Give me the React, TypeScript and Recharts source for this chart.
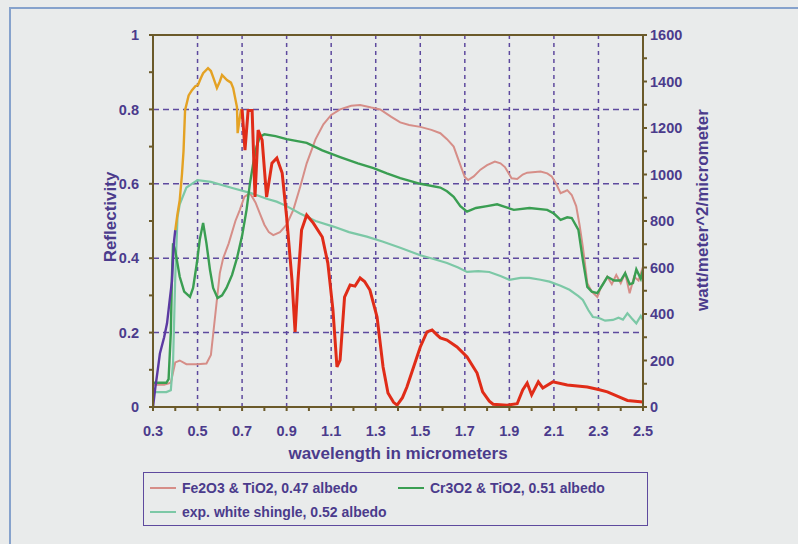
import React from "react";
import {
  ComposedChart,
  Line,
  XAxis,
  YAxis,
  ReferenceLine,
  Label,
} from "recharts";

interface Pt {
  w: number;
  v: number;
}

const pts = (rows: number[][]): Pt[] => rows.map(([w, v]) => ({ w, v }));

// reflectivity, Fe2O3 & TiO2
const fe2o3 = pts([
  [0.3, 0.06], [0.35, 0.06], [0.38, 0.065], [0.4, 0.12], [0.42, 0.125], [0.45, 0.115],
  [0.5, 0.115], [0.54, 0.117], [0.56, 0.14], [0.58, 0.25], [0.6, 0.36], [0.615, 0.4],
  [0.64, 0.44], [0.67, 0.5], [0.69, 0.53], [0.71, 0.565], [0.735, 0.575], [0.76, 0.55],
  [0.78, 0.52], [0.8, 0.49], [0.82, 0.47], [0.84, 0.462], [0.87, 0.47], [0.9, 0.49],
  [0.93, 0.53], [0.96, 0.59], [0.99, 0.655], [1.03, 0.72], [1.065, 0.76], [1.1, 0.785],
  [1.14, 0.8], [1.19, 0.81], [1.23, 0.812], [1.28, 0.805], [1.32, 0.8], [1.37, 0.78],
  [1.41, 0.765], [1.45, 0.758], [1.5, 0.753], [1.55, 0.745], [1.59, 0.736], [1.62, 0.72],
  [1.65, 0.7], [1.68, 0.65], [1.7, 0.618], [1.715, 0.61], [1.74, 0.62], [1.77, 0.638],
  [1.8, 0.65], [1.835, 0.66], [1.86, 0.655], [1.88, 0.645], [1.91, 0.615], [1.935, 0.613],
  [1.96, 0.625], [1.98, 0.63], [2.04, 0.633], [2.07, 0.628], [2.09, 0.62], [2.11, 0.6],
  [2.13, 0.575], [2.15, 0.58], [2.16, 0.583], [2.18, 0.57], [2.2, 0.54], [2.215, 0.49],
  [2.23, 0.43], [2.25, 0.333], [2.27, 0.31], [2.295, 0.296], [2.31, 0.32], [2.34, 0.35],
  [2.36, 0.33], [2.38, 0.355], [2.4, 0.333], [2.42, 0.36], [2.44, 0.306], [2.46, 0.35],
  [2.48, 0.34], [2.5, 0.377],
]);

// reflectivity, Cr2O3 & TiO2
const cr3o2 = pts([
  [0.3, 0.065], [0.36, 0.065], [0.37, 0.075], [0.38, 0.2], [0.385, 0.35], [0.39, 0.44],
  [0.4, 0.42], [0.42, 0.35], [0.44, 0.31], [0.466, 0.296], [0.48, 0.32], [0.497, 0.387],
  [0.51, 0.45], [0.525, 0.495], [0.54, 0.44], [0.556, 0.368], [0.57, 0.32], [0.59, 0.293],
  [0.61, 0.3], [0.63, 0.32], [0.655, 0.355], [0.677, 0.4], [0.7, 0.46], [0.72, 0.53],
  [0.735, 0.6], [0.75, 0.655], [0.765, 0.7], [0.78, 0.726], [0.8, 0.733], [0.85, 0.728],
  [0.9, 0.72], [0.99, 0.71], [1.06, 0.69], [1.14, 0.672], [1.22, 0.655], [1.29, 0.642],
  [1.35, 0.628], [1.41, 0.615], [1.5, 0.6], [1.59, 0.59], [1.62, 0.58], [1.65, 0.565],
  [1.68, 0.54], [1.71, 0.525], [1.75, 0.535], [1.8, 0.54], [1.845, 0.545], [1.88, 0.538],
  [1.92, 0.53], [1.99, 0.535], [2.07, 0.53], [2.1, 0.52], [2.13, 0.503], [2.16, 0.51],
  [2.18, 0.508], [2.21, 0.476], [2.23, 0.395], [2.25, 0.323], [2.27, 0.31], [2.295, 0.306],
  [2.32, 0.33], [2.34, 0.35], [2.37, 0.34], [2.4, 0.34], [2.42, 0.36], [2.44, 0.33],
  [2.455, 0.333], [2.47, 0.37], [2.49, 0.345], [2.5, 0.368],
]);

// reflectivity, exp. white shingle
const shingle = pts([
  [0.3, 0.04], [0.36, 0.04], [0.38, 0.045], [0.39, 0.12], [0.4, 0.35], [0.41, 0.51],
  [0.42, 0.545], [0.45, 0.59], [0.5, 0.61], [0.56, 0.605], [0.66, 0.588], [0.74, 0.575],
  [0.81, 0.56], [0.855, 0.552], [0.9, 0.54], [0.96, 0.52], [1.03, 0.5], [1.11, 0.485],
  [1.18, 0.47], [1.26, 0.458], [1.33, 0.445], [1.41, 0.428], [1.5, 0.408], [1.56, 0.398],
  [1.62, 0.387], [1.67, 0.375], [1.71, 0.363], [1.76, 0.365], [1.81, 0.363], [1.86, 0.352],
  [1.9, 0.342], [1.95, 0.347], [1.99, 0.347], [2.04, 0.342], [2.08, 0.337], [2.13, 0.326],
  [2.17, 0.315], [2.21, 0.298], [2.23, 0.288], [2.255, 0.26], [2.275, 0.242], [2.3, 0.24],
  [2.33, 0.232], [2.365, 0.234], [2.39, 0.24], [2.41, 0.235], [2.43, 0.252], [2.45, 0.238],
  [2.47, 0.225], [2.49, 0.245], [2.5, 0.234],
]);

// solar spectrum, watt/m^2/micrometer, split into UV / visible / IR parts
const solarUv = pts([
  [0.3, 0], [0.31, 80], [0.32, 150], [0.331, 230], [0.35, 300], [0.363, 360],
  [0.375, 460], [0.385, 540], [0.39, 640], [0.395, 718], [0.4, 761],
]);

const solarVis = pts([
  [0.4, 761], [0.41, 830], [0.42, 890], [0.43, 1000], [0.437, 1100], [0.444, 1277],
  [0.46, 1340], [0.475, 1363], [0.49, 1380], [0.502, 1385], [0.515, 1415], [0.525, 1436],
  [0.547, 1457], [0.56, 1445], [0.57, 1419], [0.587, 1372], [0.6, 1400], [0.61, 1428],
  [0.632, 1406], [0.65, 1395], [0.66, 1372], [0.677, 1290], [0.68, 1178], [0.69, 1247],
  [0.695, 1277], [0.7, 1280],
]);

const solarIr = pts([
  [0.7, 1280], [0.713, 1105], [0.727, 1275], [0.745, 1275], [0.758, 903], [0.772, 1191],
  [0.79, 1148], [0.81, 903], [0.834, 1049], [0.856, 1071], [0.88, 1006], [0.9, 817],
  [0.924, 546], [0.938, 323], [0.951, 546], [0.967, 761], [0.99, 826], [1.02, 791],
  [1.06, 731], [1.085, 619], [1.108, 417], [1.126, 172], [1.14, 202], [1.16, 473],
  [1.185, 525], [1.207, 520], [1.23, 555], [1.25, 540], [1.274, 503], [1.306, 387],
  [1.333, 172], [1.355, 60], [1.38, 20], [1.396, 8], [1.42, 40], [1.44, 86], [1.47, 172],
  [1.5, 258], [1.53, 323], [1.553, 331], [1.575, 310], [1.59, 297], [1.62, 288],
  [1.665, 258], [1.71, 215], [1.755, 146], [1.78, 65], [1.81, 25], [1.827, 12], [1.89, 8],
  [1.935, 14], [1.96, 73], [1.98, 103], [2.0, 52], [2.03, 108], [2.05, 82], [2.095, 108],
  [2.16, 95], [2.25, 86], [2.3, 75], [2.34, 65], [2.4, 40], [2.43, 28], [2.5, 22],
]);

const xTicks = [0.3, 0.4, 0.5, 0.6, 0.7, 0.8, 0.9, 1.0, 1.1, 1.2, 1.3, 1.4, 1.5, 1.6, 1.7, 1.8, 1.9, 2.0, 2.1, 2.2, 2.3, 2.4, 2.5];
const xGrid = [0.5, 0.7, 0.9, 1.1, 1.3, 1.5, 1.7, 1.9, 2.1, 2.3];
const leftTicks = [0, 0.1, 0.2, 0.3, 0.4, 0.5, 0.6, 0.7, 0.8, 0.9, 1];
const yGrid = [0.2, 0.4, 0.6, 0.8];
const rightTicks = [0, 100, 200, 300, 400, 500, 600, 700, 800, 900, 1000, 1100, 1200, 1300, 1400, 1500, 1600];

const legendItems = [
  { label: "Fe2O3 & TiO2, 0.47 albedo", color: "#d68e88" },
  { label: "Cr3O2 & TiO2, 0.51 albedo", color: "#3a9e52" },
  { label: "exp. white shingle, 0.52 albedo", color: "#7cc8a6" },
];

const TXT = "#4b3b8c";
const AXIS = "#6b5a2a";
const GRID = "#5e4a9e";
const FONT = "'Liberation Sans', Arial, sans-serif";

const tickStyle = { fill: TXT, fontSize: 14.5, fontWeight: "bold" as const, fontFamily: FONT };
const titleStyle = { fill: TXT, fontSize: 17, fontWeight: "bold" as const, fontFamily: FONT };

const odd = (v: number, step: number) => Math.round(v / step) % 2 === 1;

// rotated axis title, nudged from the centre of the axis box
const vTitle = (text: string, dx: number, dy: number) => (props: any) => {
  const vb = props.viewBox || { x: 0, y: 0, width: 0, height: 0 };
  const cx = vb.x + vb.width / 2 + dx;
  const cy = vb.y + vb.height / 2 + dy;
  return (
    <text
      x={cx}
      y={cy}
      transform={`rotate(-90 ${cx} ${cy})`}
      textAnchor="middle"
      dominantBaseline="central"
      style={titleStyle}
    >
      {text}
    </text>
  );
};

const App: React.FC = () => {
  return (
    <div
      style={{
        position: "absolute",
        left: 0,
        top: 0,
        width: 798,
        height: 544,
        background: "#e9ebeb",
        overflow: "hidden",
        fontFamily: FONT,
      }}
    >
      <div
        style={{
          position: "absolute",
          left: 9,
          top: 7,
          width: 820,
          height: 560,
          border: "2px solid #86a2cc",
        }}
      />
      <div style={{ position: "absolute", left: 0, top: 0 }}>
        <ComposedChart width={798} height={544} margin={{ top: 35, right: 47, bottom: 45, left: 63 }}>
          <XAxis
            xAxisId="x"
            type="number"
            dataKey="w"
            domain={[0.3, 2.5]}
            ticks={xTicks}
            interval={0}
            height={92}
            allowDataOverflow
            stroke={AXIS}
            strokeWidth={2}
            tickSize={4}
            tickMargin={15}
            tick={tickStyle}
            tickFormatter={(v: number) => (odd(v * 10 - 3, 1) ? "" : v.toFixed(1))}
          >
            <Label value="wavelength in micrometers" position="center" style={titleStyle} />
          </XAxis>
          <YAxis
            yAxisId="left"
            type="number"
            domain={[0, 1]}
            ticks={leftTicks}
            interval={0}
            width={90}
            stroke={AXIS}
            strokeWidth={2}
            tickSize={4}
            tickMargin={10}
            tick={tickStyle}
            tickFormatter={(v: number) =>
              odd(v, 0.1) ? "" : v === 0 ? "0" : v === 1 ? "1" : v.toFixed(1)
            }
          >
            <Label content={vTitle("Reflectivity", 2, -4)} />
          </YAxis>
          <YAxis
            yAxisId="right"
            orientation="right"
            type="number"
            domain={[0, 1600]}
            ticks={rightTicks}
            interval={0}
            width={108}
            stroke={AXIS}
            strokeWidth={2}
            tickSize={4}
            tickMargin={3}
            tick={tickStyle}
            tickFormatter={(v: number) => (odd(v, 100) ? "" : String(v))}
          >
            <Label content={vTitle("watt/meter^2/micrometer", 5, -11)} />
          </YAxis>

          {xGrid.map((g) => (
            <ReferenceLine
              key={"gx" + g}
              xAxisId="x"
              yAxisId="left"
              x={g}
              stroke={GRID}
              strokeWidth={1.5}
              strokeDasharray="4 4"
            />
          ))}
          {yGrid.map((g) => (
            <ReferenceLine
              key={"gy" + g}
              xAxisId="x"
              yAxisId="left"
              y={g}
              stroke={GRID}
              strokeWidth={1.5}
              strokeDasharray="6 4"
            />
          ))}
          <ReferenceLine xAxisId="x" yAxisId="left" y={1} stroke={AXIS} strokeWidth={2} />

          <Line
            xAxisId="x"
            yAxisId="left"
            data={fe2o3}
            dataKey="v"
            type="linear"
            stroke="#d68e88"
            strokeWidth={2}
            dot={false}
            isAnimationActive={false}
          />
          <Line
            xAxisId="x"
            yAxisId="left"
            data={shingle}
            dataKey="v"
            type="linear"
            stroke="#7cc8a6"
            strokeWidth={2.2}
            dot={false}
            isAnimationActive={false}
          />
          <Line
            xAxisId="x"
            yAxisId="left"
            data={cr3o2}
            dataKey="v"
            type="linear"
            stroke="#3a9e52"
            strokeWidth={2.4}
            dot={false}
            isAnimationActive={false}
          />
          <Line
            xAxisId="x"
            yAxisId="right"
            data={solarUv}
            dataKey="v"
            type="linear"
            stroke="#5b3aa2"
            strokeWidth={2.4}
            dot={false}
            isAnimationActive={false}
          />
          <Line
            xAxisId="x"
            yAxisId="right"
            data={solarVis}
            dataKey="v"
            type="linear"
            stroke="#e4a224"
            strokeWidth={2.4}
            dot={false}
            isAnimationActive={false}
          />
          <Line
            xAxisId="x"
            yAxisId="right"
            data={solarIr}
            dataKey="v"
            type="linear"
            stroke="#e02c18"
            strokeWidth={3}
            dot={false}
            isAnimationActive={false}
          />
        </ComposedChart>
      </div>
      <div
        style={{
          position: "absolute",
          left: 143,
          top: 472,
          width: 505,
          height: 54,
          border: "1.5px solid #5e4a9e",
          boxSizing: "border-box",
        }}
      >
        {legendItems.map((it, i) => (
          <div
            key={it.label}
            style={{
              position: "absolute",
              left: i === 1 ? 254 : 6,
              top: i === 2 ? 31 : 7,
              display: "flex",
              alignItems: "center",
              whiteSpace: "nowrap",
            }}
          >
            <span style={{ display: "inline-block", width: 26, height: 2, background: it.color, marginRight: 6 }} />
            <span style={{ color: TXT, fontSize: 14, fontWeight: "bold" }}>{it.label}</span>
          </div>
        ))}
      </div>
    </div>
  );
};

export default App;
